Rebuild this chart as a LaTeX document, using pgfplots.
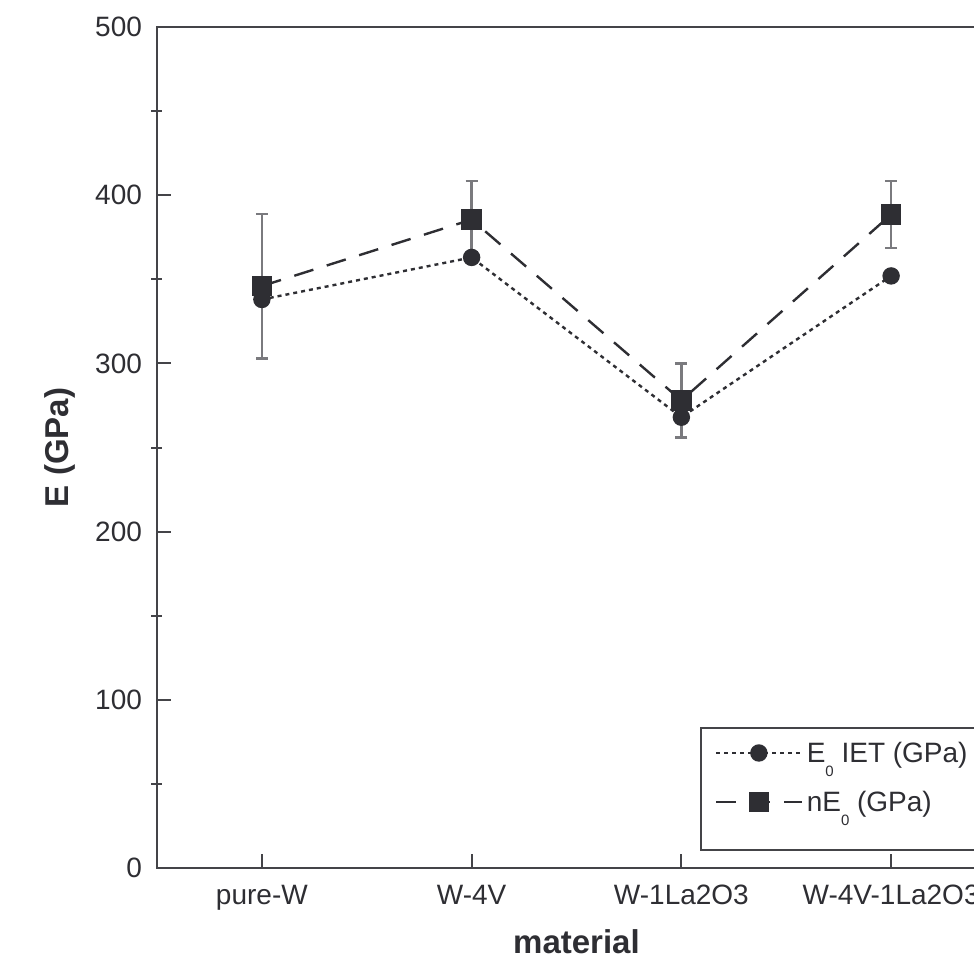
\documentclass[border=0pt]{standalone}
\usepackage{pgfplots}
\pgfplotsset{compat=1.18}
\usepackage{fontspec}
\setmainfont{Liberation Sans}
\definecolor{ink}{HTML}{2E2E33}
\definecolor{axc}{HTML}{444448}
\definecolor{errc}{HTML}{7A7A7E}
\pgfplotstableread{
x y
0 338
1 363
2 268
3 352
}\eiet
\pgfplotstableread{
x y e
0 346 43
1 385.5 23
2 278 22
3 388.5 20
}\nez
\newcommand{\sub}[1]{\raisebox{-0.5em}{\fontsize{7.5}{9}\selectfont #1}}
\begin{document}
\begin{tikzpicture}
\useasboundingbox (0,0) rectangle (487pt,480pt);
\clip (0,0) rectangle (487pt,480pt);
\begin{axis}[
  at={(78.5pt,46pt)}, anchor=south west,
  scale only axis, width=419.5pt, height=420.5pt,
  xmin=-0.5, xmax=3.5, ymin=0, ymax=500,
  xtick={0,1,2,3},
  xticklabels={pure-W,W-4V,W-1La2O3,W-4V-1La2O3},
  ytick={0,100,200,300,400,500},
  extra y ticks={50,150,250,350,450},
  extra y tick labels={},
  extra y tick style={major tick length=5.5pt, tick align=center},
  tick align=inside, major tick length=7pt,
  xtick pos=bottom, ytick pos=left,
  axis line style={axc, line width=1pt},
  tick style={axc, line width=1pt},
  ticklabel style={font=\fontsize{14}{16}\selectfont, text=ink},
  xticklabel style={yshift=-5pt},
  yticklabel style={xshift=-4pt},
  /pgf/number format/assume math mode=true,
  xlabel={\textbf{material}}, ylabel={\textbf{E (GPa)}},
  every axis x label/.style={at={(axis description cs:0.5,-0.088)}, anchor=center, font=\fontsize{16.5}{19}\selectfont, text=ink},
  every axis y label/.style={at={(axis description cs:-0.1156,0.5)}, rotate=90, anchor=center, font=\fontsize{16.5}{19}\selectfont, text=ink},
  legend style={at={(axis description cs:0.6472,0.1677)}, anchor=north west,
    draw=axc, line width=1pt, font=\fontsize{14}{16}\selectfont, text=ink,
    inner xsep=7pt, inner ysep=3pt, row sep=7pt, cells={anchor=base west},
    row 3/.style={nodes={inner sep=0pt, text height=0pt, text depth=0pt}}},
  legend image code/.code={\begin{scope}[yshift=5pt]\draw[mark repeat=2,mark phase=2,#1] plot coordinates {(0cm,0cm) (0.75cm,0cm) (1.5cm,0cm)};\end{scope}},
]
\addplot[ink, line width=1.2pt, dash pattern=on 2pt off 2pt, mark=*, mark size=3.75pt, mark options={solid, fill=ink, draw=ink}]
  table[x=x,y=y] {\eiet};
\addlegendentry{\raisebox{0pt}[12.5pt][5pt]{E\sub{0} IET (GPa)}}
\addplot[ink, line width=1.2pt, dash pattern=on 10pt off 7pt, mark=square*, mark size=4.5pt, mark options={solid, fill=ink, draw=ink},
  error bars/.cd, y dir=both, y explicit,
  error bar style={errc, line width=1.2pt, solid},
  error mark options={rotate=90, mark size=3pt, errc, line width=1.2pt, solid}]
  table[x=x,y=y,y error=e] {\nez};
\addlegendentry{\raisebox{0pt}[12pt][5pt]{nE\sub{0} (GPa)}}
\addlegendimage{empty legend}
\addlegendentry{}
\end{axis}
\end{tikzpicture}
\end{document}
